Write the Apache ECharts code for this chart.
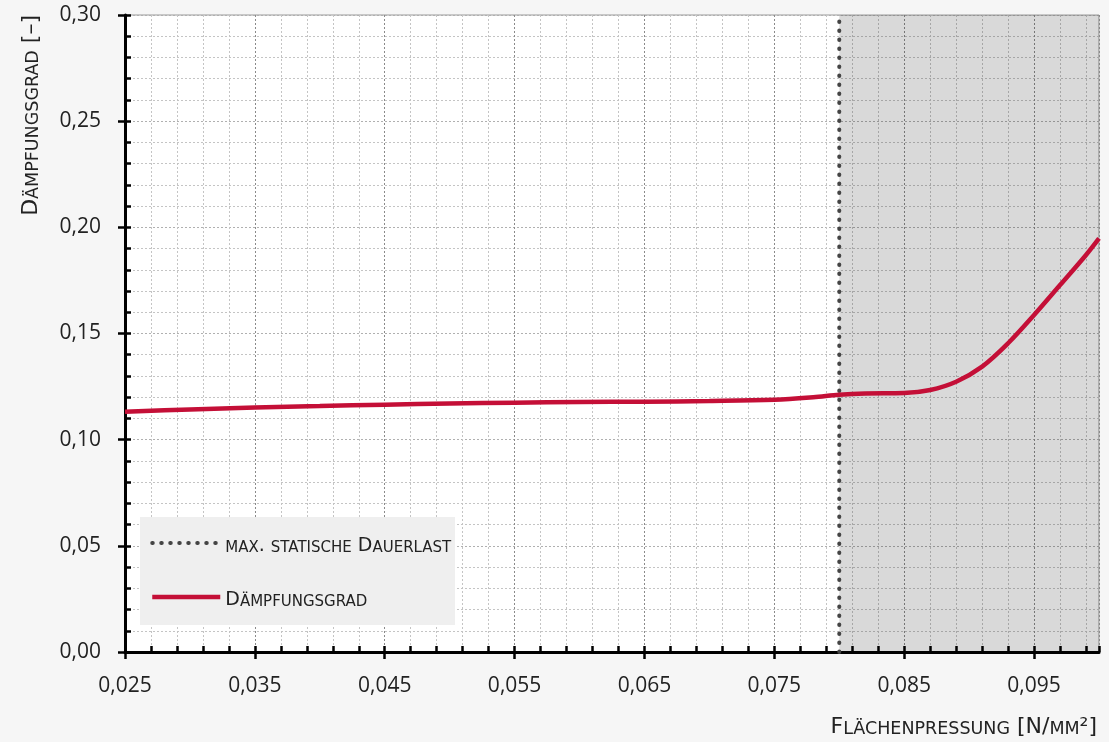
<!DOCTYPE html>
<html>
<head>
<meta charset="utf-8">
<script src="https://cdn.jsdelivr.net/npm/echarts@6/dist/echarts.min.js"></script>
<style>
html,body{margin:0;padding:0;background:#f6f6f6;}
#chart{width:1109px;height:742px;}
</style>
</head>
<body>
<div id="chart"></div>
<script>
// Data
const pressure = [0.025, 0.030, 0.035, 0.040, 0.045, 0.050, 0.055, 0.060, 0.065, 0.070, 0.075, 0.078, 0.080, 0.082, 0.085, 0.087, 0.089, 0.091, 0.093, 0.095, 0.097, 0.099, 0.100];
const damping  = [0.1132, 0.1142, 0.1151, 0.1158, 0.1165, 0.1170, 0.1174, 0.1177, 0.1179, 0.1182, 0.1188, 0.1200, 0.1212, 0.1218, 0.1220, 0.1234, 0.1273, 0.1344, 0.1454, 0.1587, 0.1728, 0.1870, 0.1948];
const maxStaticLoad = 0.080;
const yRange = [0, 0.30];
const xRange = [0.025, 0.100];
const seriesNames = ['max. statische Dauerlast', 'Dämpfungsgrad'];
const axisTitles = { x: 'Flächenpressung [N/mm²]', y: 'Dämpfungsgrad [–]' };

// small-caps rendering via rich text runs
function smallCaps(s) {
  let out = '', cur = null, buf = '';
  for (const ch of s) {
    const lower = ch !== ch.toUpperCase();
    const st = lower ? 's' : 'b';
    if (st !== cur) { if (buf) out += '{' + cur + '|' + buf + '}'; buf = ''; cur = st; }
    buf += lower ? ch.toUpperCase() : ch;
  }
  if (buf) out += '{' + cur + '|' + buf + '}';
  return out;
}
function capsRich(big, small) {
  return {
    b: { fontFamily: 'DejaVu Sans', fontSize: big, lineHeight: 26, verticalAlign: 'bottom', color: '#222' },
    s: { fontFamily: 'DejaVu Sans', fontSize: small, lineHeight: 26, verticalAlign: 'bottom', color: '#222' }
  };
}

const chart = echarts.init(document.getElementById('chart'), null, {renderer: 'canvas'});

const labelFont = { color: '#222', fontFamily: 'Open Sans', fontSize: 21 };
const dotted = { color: '#444', width: 4, type: [0.5, 8.5], cap: 'round' };
const red = { color: '#c40f37', width: 4.5 };

const option = {
  backgroundColor: '#f6f6f6',
  animation: false,
  grid: { left: 125, right: 10, top: 15, bottom: 90, show: true, backgroundColor: '#ffffff', borderColor: '#9a9a9a', borderWidth: 1 },
  xAxis: [
    {
      type: 'value', min: xRange[0], max: xRange[1], interval: 0.01,
      axisLine: { show: true, lineStyle: { color: '#000', width: 3 } },
      axisTick: { show: true, inside: false, length: 7, lineStyle: { color: '#000', width: 2.5 } },
      axisLabel: Object.assign({ margin: 24, formatter: v => v.toFixed(3).replace('.', ','), showMaxLabel: false }, labelFont),
      splitLine: { show: true, lineStyle: { color: '#8a8a8a', type: [2, 2], width: 1 } },
      minorTick: { show: false, splitNumber: 5 },
      minorSplitLine: { show: true, lineStyle: { color: '#c4c4c4', type: [2, 2], width: 1 } }
    },
    {
      type: 'value', min: xRange[0], max: xRange[1], interval: 0.01, position: 'bottom',
      axisLine: { show: false },
      axisTick: { show: true, inside: true, length: 6, lineStyle: { color: '#000', width: 2.5 } },
      minorTick: { show: true, splitNumber: 5, length: 6, lineStyle: { color: '#000', width: 2.5 } },
      axisLabel: { show: false }, splitLine: { show: false }
    }
  ],
  yAxis: [
    {
      type: 'value', min: yRange[0], max: yRange[1], interval: 0.05,
      axisLine: { show: true, lineStyle: { color: '#000', width: 3 } },
      axisTick: { show: true, inside: false, length: 7, lineStyle: { color: '#000', width: 2.5 } },
      axisLabel: Object.assign({ margin: 24, formatter: v => v.toFixed(2).replace('.', ',') }, labelFont),
      splitLine: { show: true, lineStyle: { color: '#b0b0b0', type: [2, 2], width: 1 } },
      minorTick: { show: false, splitNumber: 5 },
      minorSplitLine: { show: true, lineStyle: { color: '#c4c4c4', type: [2, 2], width: 1 } }
    },
    {
      type: 'value', min: yRange[0], max: yRange[1], interval: 0.05, position: 'left',
      axisLine: { show: false },
      axisTick: { show: true, inside: true, length: 6, lineStyle: { color: '#000', width: 2.5 } },
      minorTick: { show: true, splitNumber: 5, length: 6, lineStyle: { color: '#000', width: 2.5 } },
      axisLabel: { show: false }, splitLine: { show: false }
    }
  ],
  legend: {
    orient: 'vertical', left: 150, top: 535, padding: 0, z: 20,
    itemWidth: 68, itemHeight: 20, itemGap: 33,
    itemStyle: { opacity: 0 },
    data: [
      { name: seriesNames[0], lineStyle: dotted },
      { name: seriesNames[1], lineStyle: red }
    ],
    formatter: name => smallCaps(name),
    textStyle: { color: '#222', rich: capsRich(19, 15) }
  },
  graphic: [
    { type: 'rect', left: 140, top: 517, z: 10, silent: true, shape: { width: 315, height: 108 }, style: { fill: '#efefef' } },
    { type: 'text', x: 29, y: 15, rotation: Math.PI / 2, z: 10, style: { text: smallCaps(axisTitles.y), rich: capsRich(22, 17.5), fill: '#222', textAlign: 'right', textVerticalAlign: 'middle' } },
    { type: 'text', x: 1097, y: 725, z: 10, style: { text: smallCaps(axisTitles.x), rich: capsRich(22, 17.5), fill: '#222', textAlign: 'right', textVerticalAlign: 'middle' } }
  ],
  series: [
    {
      name: seriesNames[0], type: 'line', symbol: 'none', z: 3,
      data: [[maxStaticLoad, yRange[0]], [maxStaticLoad, yRange[1]]],
      lineStyle: dotted,
      itemStyle: { color: '#444' },
      markArea: {
        silent: true,
        itemStyle: { color: 'rgba(0,0,0,0.15)' },
        data: [[{ xAxis: maxStaticLoad }, { xAxis: xRange[1] }]]
      }
    },
    {
      name: seriesNames[1], type: 'line', symbol: 'none', smooth: 0.35, z: 4,
      data: pressure.map((x, i) => [x, damping[i]]),
      lineStyle: red,
      itemStyle: { color: '#c40f37' }
    }
  ]
};
chart.setOption(option);
</script>
</body>
</html>
